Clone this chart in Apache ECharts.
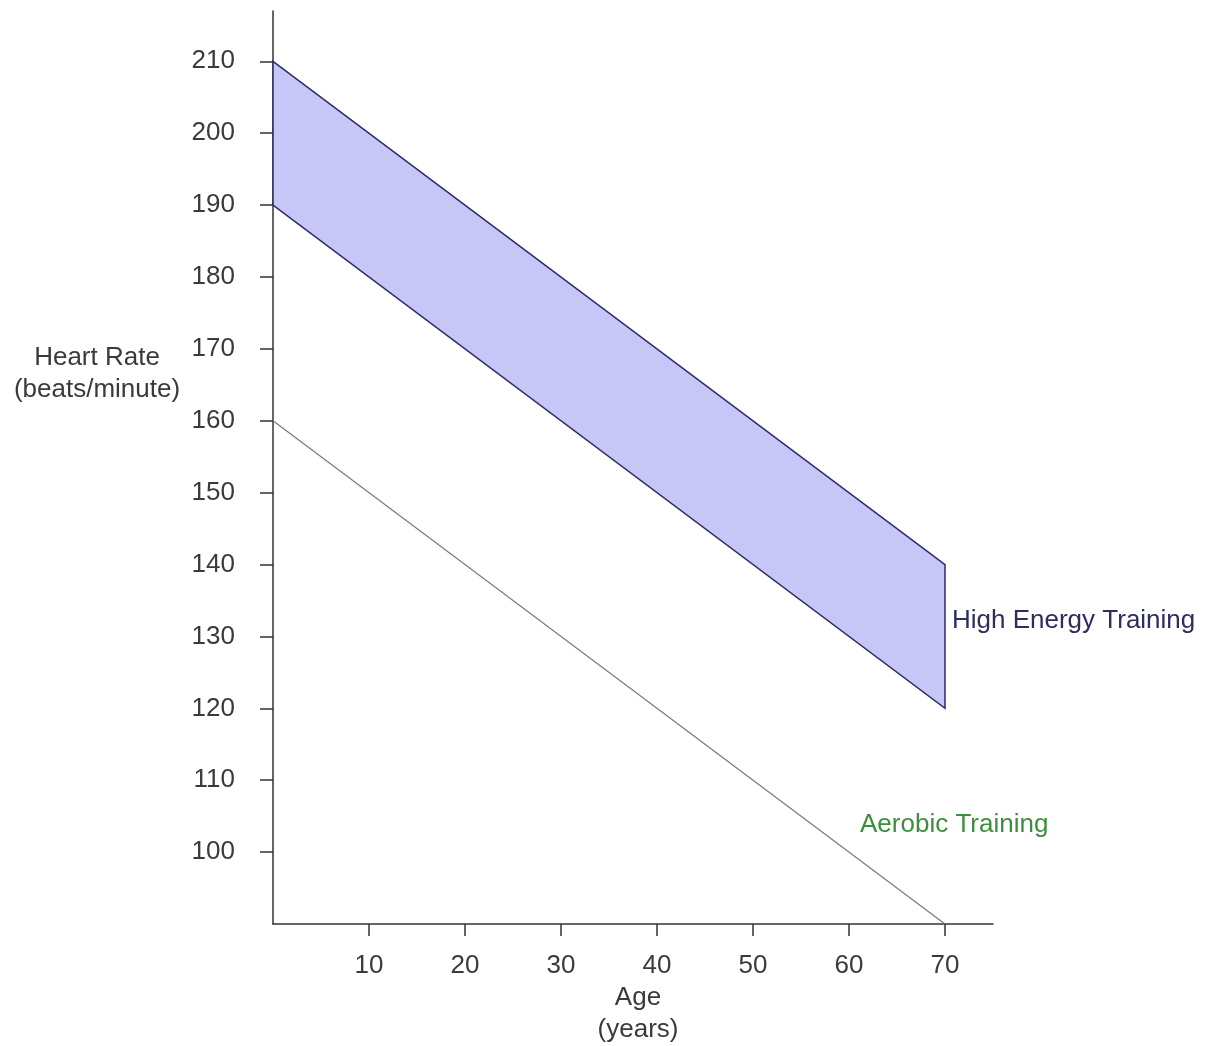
<!DOCTYPE html>
<html>
<head>
<meta charset="utf-8">
<script src="https://cdn.jsdelivr.net/npm/echarts@6/dist/echarts.min.js"></script>
<style>
html,body{margin:0;padding:0;background:#fff;}
#chart{width:1207px;height:1046px;}
</style>
</head>
<body>
<div id="chart"></div>
<script>
// Data
const ages = [0, 70];
const highEnergyUpper = [210, 140];
const highEnergyLower = [190, 120];
const aerobic = [160, 90];
const yTickValues = [100, 110, 120, 130, 140, 150, 160, 170, 180, 190, 200, 210];
const xTickValues = [10, 20, 30, 40, 50, 60, 70];

const FONT = '"Liberation Sans", Arial, sans-serif';
const FS = 26;
const chart = echarts.init(document.getElementById('chart'), null, {renderer: 'canvas'});

chart.setOption({
  backgroundColor: '#ffffff',
  animation: false,
  grid: {left: 273, right: 214, top: 11, bottom: 122, containLabel: false},
  xAxis: {
    type: 'value', min: 0, max: 75, interval: 10,
    splitLine: {show: false},
    axisLine: {lineStyle: {color: '#333', width: 1.5}},
    axisTick: {show: true, length: 12, customValues: xTickValues, lineStyle: {color: '#333', width: 1.5}},
    axisLabel: {customValues: xTickValues, color: '#3a3a3a', fontSize: FS, fontFamily: FONT, margin: 29}
  },
  yAxis: {
    type: 'value', min: 90, max: 217, interval: 10,
    splitLine: {show: false},
    axisLine: {show: true, lineStyle: {color: '#333', width: 1.5}},
    axisTick: {show: true, length: 13, customValues: yTickValues, lineStyle: {color: '#333', width: 1.5}},
    axisLabel: {customValues: yTickValues, color: '#3a3a3a', fontSize: FS, fontFamily: FONT, margin: 38}
  },
  series: [
    {
      name: 'High Energy Training',
      type: 'custom',
      data: ages.map((a, i) => [a, highEnergyUpper[i], highEnergyLower[i]]),
      renderItem: function (params, api) {
        if (params.dataIndex !== 0) return null;
        const pts = [];
        for (let i = 0; i < ages.length; i++) pts.push(api.coord([ages[i], highEnergyUpper[i]]));
        for (let i = ages.length - 1; i >= 0; i--) pts.push(api.coord([ages[i], highEnergyLower[i]]));
        return {
          type: 'polygon',
          shape: {points: pts},
          style: {fill: '#c6c6f7', stroke: '#2c2c66', lineWidth: 1.5}
        };
      },
      z: 3
    },
    {
      name: 'Aerobic Training',
      type: 'line',
      data: ages.map((a, i) => [a, aerobic[i]]),
      symbol: 'none',
      lineStyle: {color: '#7a7a7a', width: 1.2},
      z: 2
    }
  ],
  graphic: [
    {type: 'text', x: 97, y: 358, style: {text: 'Heart Rate', fontSize: FS, fontFamily: FONT, fill: '#3a3a3a', align: 'center', verticalAlign: 'middle'}},
    {type: 'text', x: 97, y: 390, style: {text: '(beats/minute)', fontSize: FS, fontFamily: FONT, fill: '#3a3a3a', align: 'center', verticalAlign: 'middle'}},
    {type: 'text', x: 638, y: 998, style: {text: 'Age', fontSize: FS, fontFamily: FONT, fill: '#3a3a3a', align: 'center', verticalAlign: 'middle'}},
    {type: 'text', x: 638, y: 1030, style: {text: '(years)', fontSize: FS, fontFamily: FONT, fill: '#3a3a3a', align: 'center', verticalAlign: 'middle'}},
    {type: 'text', x: 952, y: 621, style: {text: 'High Energy Training', fontSize: FS, fontFamily: FONT, fill: '#2d2d5e', align: 'left', verticalAlign: 'middle'}},
    {type: 'text', x: 860, y: 825, style: {text: 'Aerobic Training', fontSize: FS, fontFamily: FONT, fill: '#3d8f3d', align: 'left', verticalAlign: 'middle'}}
  ]
});
</script>
</body>
</html>
